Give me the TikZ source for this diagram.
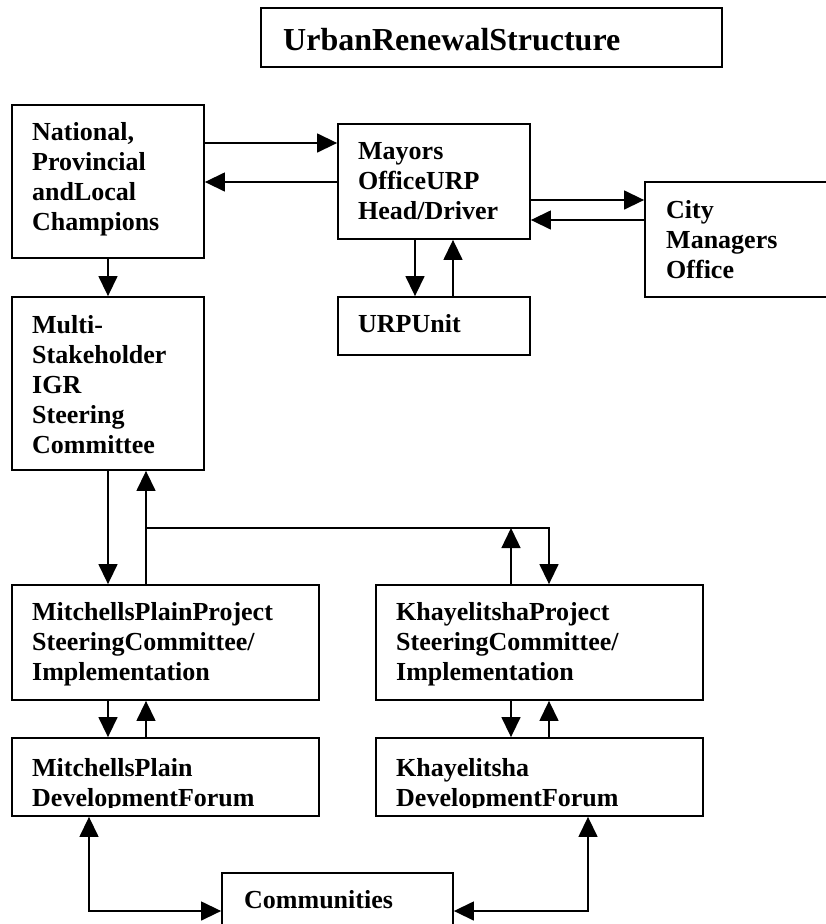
\documentclass[tikz,border=0pt]{standalone}
\usepackage{fontspec}
\setmainfont{Liberation Serif}
\usetikzlibrary{arrows.meta}

\tikzset{
  box/.style={draw, line width=1.8pt, inner sep=0pt},
  lbl/.style={anchor=base west, align=left, inner sep=0pt,
    font=\fontsize{26}{30}\selectfont\bfseries},
  link/.style={line width=1.4pt, -{Triangle[length=20pt,width=19pt]}},
  twoway/.style={line width=1.4pt, {Triangle[length=20pt,width=19pt]}-{Triangle[length=20pt,width=19pt]}}
}

\begin{document}
\begin{tikzpicture}[x=1pt,y=-1pt]
 \useasboundingbox (0,0) rectangle (825,924);

 % boxes
 \node[box, minimum width=461pt, minimum height=59pt] (title) at (491.5,37.5) {};
 \node[box, minimum width=192pt, minimum height=153pt] (nat) at (108,181.5) {};
 \node[box, minimum width=192pt, minimum height=115pt] (may) at (434,181.5) {};
 \node[box, minimum width=190pt, minimum height=115pt] (city) at (740,239.5) {};
 \node[box, minimum width=192pt, minimum height=58pt] (urp) at (434,326) {};
 \node[box, minimum width=192pt, minimum height=173pt] (msc) at (108,383.5) {};
 \node[box, minimum width=307pt, minimum height=115pt] (mpp) at (165.5,642.5) {};
 \node[box, minimum width=327pt, minimum height=115pt] (kpp) at (539.5,642.5) {};
 \node[box, minimum width=307pt, minimum height=78pt] (mpf) at (165.5,777) {};
 \node[box, minimum width=327pt, minimum height=78pt] (kpf) at (539.5,777) {};
 \node[box, minimum width=231pt, minimum height=62pt] (com) at (337.5,904) {};

 % texts (placed at the baseline of the last line)
 \node[lbl, font=\fontsize{32}{36}\selectfont\bfseries] (titlelbl) at (283,50) {UrbanRenewalStructure};
 \node[lbl] (natlbl) at (32,230) {National,\\Provincial\\andLocal\\Champions};
 \node[lbl] (maylbl) at (358,219) {Mayors\\OfficeURP\\Head/Driver};
 \node[lbl] (citylbl) at (666,278) {City\\Managers\\Office};
 \node[lbl] (urplbl) at (358,332) {URPUnit};
 \node[lbl] (msclbl) at (32,453) {Multi-\\Stakeholder\\IGR\\Steering\\Committee};
 \node[lbl] (mpplbl) at (32,680) {MitchellsPlainProject\\SteeringCommittee/\\Implementation};
 \node[lbl] (kpplbl) at (396,680) {KhayelitshaProject\\SteeringCommittee/\\Implementation};
 \begin{scope}
  \clip (12,738) rectangle (703,807);
  \node[lbl] (mpflbl) at (32,806) {MitchellsPlain\\DevelopmentForum};
  \node[lbl] (kpflbl) at (396,806) {Khayelitsha\\DevelopmentForum};
 \end{scope}
 \node[lbl] (comlbl) at (244,908) {Communities};

 % connectors
 \draw[link] (nat.east |- 0,143) -- (may.west |- 0,143);
 \draw[link] (may.west |- 0,182) -- (nat.east |- 0,182);
 \draw[link] (nat.south) -- (msc.north);
 \draw[link] (may.east |- 0,200) -- (city.west |- 0,200);
 \draw[link] (city.west |- 0,220) -- (may.east |- 0,220);
 \draw[link] (may.south -| 415,0) -- (urp.north -| 415,0);
 \draw[link] (urp.north -| 453,0) -- (may.south -| 453,0);

 \draw[link] (msc.south -| 108,0) -- (mpp.north -| 108,0);
 \draw[link] (mpp.north -| 146,0) -- (msc.south -| 146,0);
 \coordinate (fork) at (146,528);
 \coordinate (kdown) at (549,528);
 \coordinate (kup) at (511,528);
 \draw[link] (fork) -- (kdown) -- (kpp.north -| kdown);
 \draw[link] (kpp.north -| kup) -- (kup);

 \draw[link] (mpp.south -| 108,0) -- (mpf.north -| 108,0);
 \draw[link] (mpf.north -| 146,0) -- (mpp.south -| 146,0);
 \draw[link] (kpp.south -| 511,0) -- (kpf.north -| 511,0);
 \draw[link] (kpf.north -| 549,0) -- (kpp.south -| 549,0);

 \draw[twoway] (com.west |- 0,911) -| (mpf.south -| 89,0);
 \draw[twoway] (com.east |- 0,911) -| (kpf.south -| 588,0);
\end{tikzpicture}
\end{document}
